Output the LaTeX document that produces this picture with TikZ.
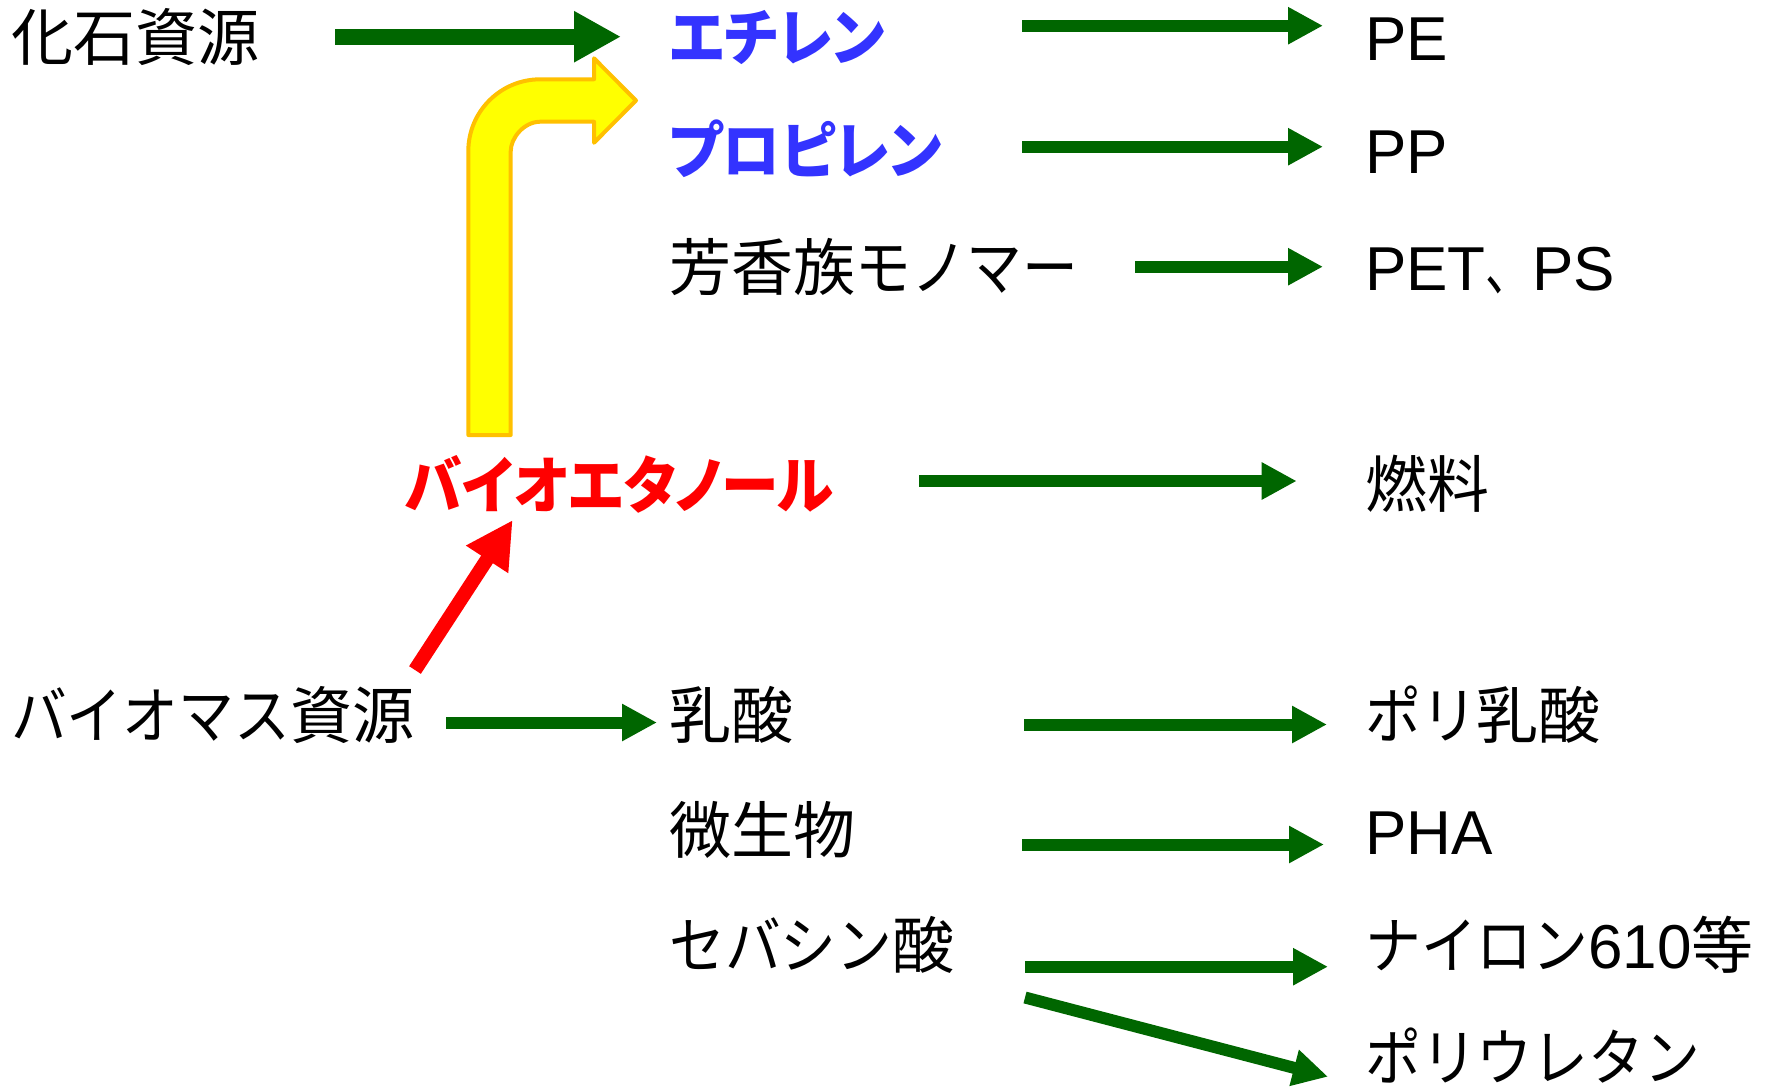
\documentclass[tikz,border=0pt]{standalone}
\usepackage{graphicx}
\usepackage{fontspec}
\setmainfont{Liberation Sans}
\newfontfamily\cjk{Noto Sans CJK JP}
\newfontfamily\cjkp[RawFeature=+palt]{Noto Sans CJK JP}
\newcommand\kn[1]{\scalebox{0.9}[1]{#1}}
\newcommand\bk[1]{\scalebox{0.93}[1]{\cjkp\bfseries #1}}
\usetikzlibrary{arrows.meta}
\definecolor{garr}{HTML}{006600}
\definecolor{bluet}{HTML}{3333FF}
\definecolor{redt}{HTML}{FF0000}
\definecolor{yfill}{HTML}{FFFF00}
\definecolor{ydraw}{HTML}{FFC000}
\begin{document}
\begin{tikzpicture}[x=1pt,y=-1pt,
  lbl/.style={anchor=base west, inner sep=0pt, font=\fontsize{62}{70}\selectfont},
  garrow/.style={draw=garr, line width=12pt, -{Triangle[length=35pt,width=35pt]}},
  bigarrow/.style={draw=garr, line width=16pt, -{Triangle[length=47pt,width=48pt]}},
  rarrow/.style={draw=redt, line width=14pt, -{Triangle[length=47pt,width=47pt]}},
  yarrow/.style={draw=ydraw, fill=yfill, line width=4pt, line join=round}]
\useasboundingbox (0,0) rectangle (1775,1088);

% texts
\node[lbl] (kaseki) at (11,60) {\cjk 化石資源};
\node[lbl,text=bluet] (ethylene) at (669,60) {\bk{エチレン}};
\node[lbl] (PE) at (1365,60) {PE};
\node[lbl,text=bluet] (propylene) at (669,173) {\bk{プロピレン}};
\node[lbl] (PP) at (1365,173) {PP};
\node[lbl] (aromatic) at (669,290) {\cjk 芳香族\kn{モノマー}};
\node[lbl] (petps) at (1365,290) {PET{\cjk\scalebox{0.75}[1]{、}}PS};
\node[lbl,text=redt] (bioeth) at (405,508) {\bk{バイオエタノール}};
\node[lbl] (fuel) at (1365,507) {\cjk 燃料};
\node[lbl] (biomass) at (11,738) {\cjk\kn{バイオマス}資源};
\node[lbl] (lactic) at (669,738) {\cjk 乳酸};
\node[lbl] (pla) at (1365,738) {\cjk\kn{ポリ}乳酸};
\node[lbl] (microbe) at (669,853) {\cjk 微生物};
\node[lbl] (pha) at (1365,854) {PHA};
\node[lbl] (sebacic) at (669,968) {\cjk\kn{セバシン}酸};
\node[lbl] (nylon) at (1365,968) {{\cjk\kn{ナイロン}}610{\cjk 等}};
\node[lbl] (pu) at (1365,1080) {\cjk\kn{ポリウレタン}};

% connector end points
\coordinate (kasekiOut) at (335,36.7);
\coordinate (ethyleneIn) at (621,36.7);
\coordinate (ethyleneOut) at (1022,25.7);
\coordinate (PEIn) at (1323,25.7);
\coordinate (propyleneOut) at (1022,146.7);
\coordinate (PPIn) at (1323,146.7);
\coordinate (aromaticOut) at (1135,266.7);
\coordinate (petpsIn) at (1323,266.7);
\coordinate (bioethOut) at (919,481);
\coordinate (fuelIn) at (1296.7,481);
\coordinate (biomassOut) at (446,722.5);
\coordinate (lacticIn) at (657,722.5);
\coordinate (lacticOut) at (1024,724.5);
\coordinate (plaIn) at (1327,724.5);
\coordinate (microbeOut) at (1022,844.5);
\coordinate (phaIn) at (1324,844.5);
\coordinate (sebacicOut) at (1025,966.7);
\coordinate (nylonIn) at (1328,966.7);
\coordinate (sebacicOut2) at (1025,997.5);
\coordinate (puIn) at (1328,1076.7);
\coordinate (biomassUp) at (415,670);
\coordinate (bioethIn) at (512.7,520);

% green arrows
\draw[bigarrow] (kasekiOut) -- (ethyleneIn);
\draw[garrow] (ethyleneOut) -- (PEIn);
\draw[garrow] (propyleneOut) -- (PPIn);
\draw[garrow] (aromaticOut) -- (petpsIn);
\draw[garrow] (bioethOut) -- (fuelIn);
\draw[garrow] (biomassOut) -- (lacticIn);
\draw[garrow] (lacticOut) -- (plaIn);
\draw[garrow] (microbeOut) -- (phaIn);
\draw[garrow] (sebacicOut) -- (nylonIn);
\draw[garrow] (sebacicOut2) -- (puIn);

% red arrow
\draw[rarrow] (biomassUp) -- (bioethIn);

% yellow bent arrow
\draw[yarrow] (468.3,435) -- (468.3,151.3)
  .. controls (468.3,111.5) and (500.5,79.3) .. (540.3,79.3)
  -- (594,79.3) -- (594,58.3) -- (636,100.5) -- (594,142.7) -- (594,121.7)
  -- (540.3,121.7)
  .. controls (523.95,121.7) and (510.7,137.95) .. (510.7,151.3)
  -- (510.7,435) -- cycle;
\end{tikzpicture}
\end{document}
